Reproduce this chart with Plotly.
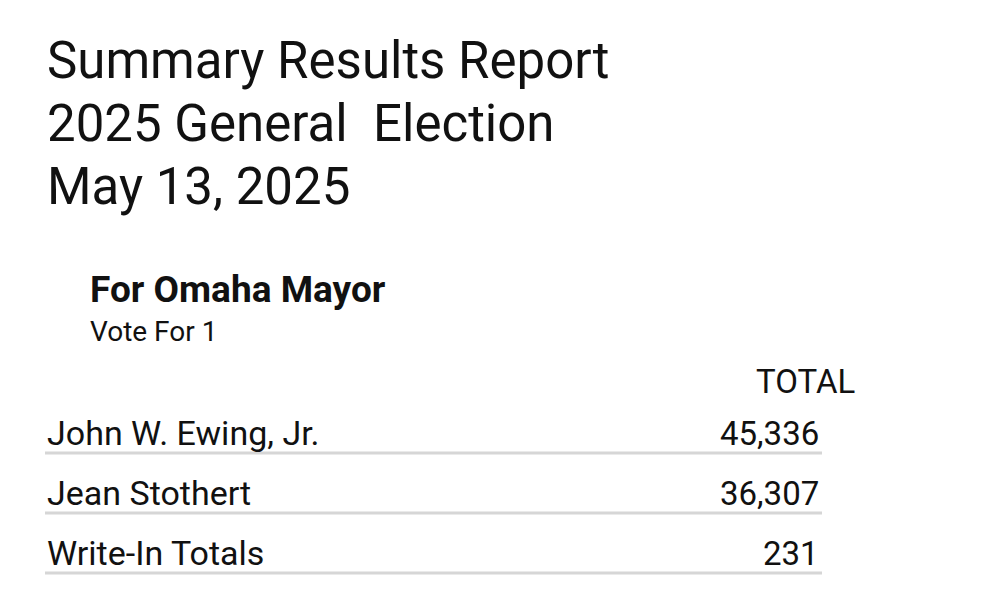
import plotly.graph_objects as go

title_lines = ["Summary Results Report", "2025 General  Election", "May 13, 2025"]
contest = "For Omaha Mayor"
vote_for = "Vote For 1"
column_header = "TOTAL"
candidates = ["John W. Ewing, Jr.", "Jean Stothert", "Write-In Totals"]
votes = [45336, 36307, 231]

fig = go.Figure()
F = "Roboto, Arial, sans-serif"
dx, dy = -8, -8
ann = []
for i, t in enumerate(title_lines):
    ann.append(dict(x=45 + dx, y=60 + i * 63 + dy, text=t, xanchor="left", yanchor="middle",
                    showarrow=False, font=dict(family=F, size=51, color="#111")))
ann.append(dict(x=88 + dx, y=289 + dy, text="<b>" + contest + "</b>", xanchor="left", yanchor="middle",
                showarrow=False, font=dict(family=F, size=37, color="#111")))
ann.append(dict(x=88 + dx, y=331 + dy, text=vote_for, xanchor="left", yanchor="middle",
                showarrow=False, font=dict(family=F, size=28, color="#111")))
ann.append(dict(x=857 + dx, y=381 + dy, text=column_header, xanchor="right", yanchor="middle",
                showarrow=False, font=dict(family=F, size=33, color="#111")))
shapes = []
for i, (c, v) in enumerate(zip(candidates, votes)):
    y = 433 + i * 60 + dy
    ann.append(dict(x=45 + dx, y=y, text=c, xanchor="left", yanchor="middle",
                    showarrow=False, font=dict(family=F, size=34, color="#111")))
    ann.append(dict(x=821 + dx, y=y, text=f"{v:,}", xanchor="right", yanchor="middle",
                    showarrow=False, font=dict(family=F, size=33, color="#111")))
    shapes.append(dict(type="line", x0=45 + dx, x1=822 + dx, y0=y + 20, y1=y + 20,
                       line=dict(color="#d6d6d6", width=3)))

fig.update_layout(
    width=1000, height=597, margin=dict(l=0, r=0, t=0, b=0),
    paper_bgcolor="white", plot_bgcolor="white",
    xaxis=dict(range=[0, 1000], visible=False, fixedrange=True),
    yaxis=dict(range=[597, 0], visible=False, fixedrange=True),
    annotations=ann, shapes=shapes, showlegend=False,
)
fig.write_html("out.html")
